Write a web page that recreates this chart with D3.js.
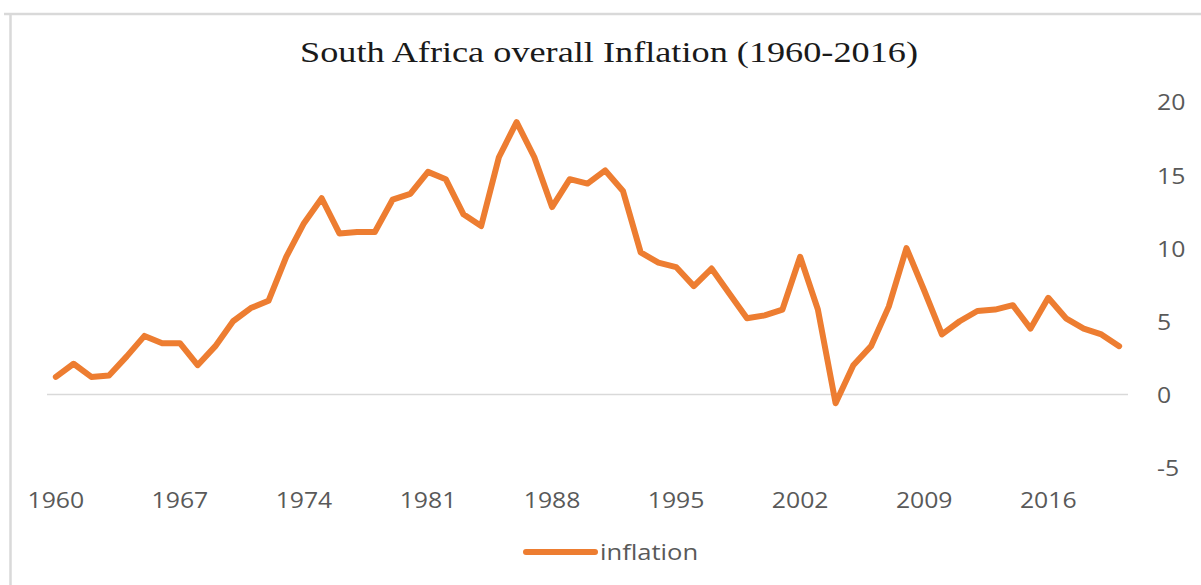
<head>
    <meta charset="utf-8">
    <style> body { margin: 0; background: #fff; } </style>
    <script src="https://cdn.jsdelivr.net/npm/d3@7"></script>
</head>
<body>
<div id="chart"></div>
<script>

    var years = d3.range(1960, 2021);

    var inflation = [
        1.2, 2.1, 1.2, 1.3, 2.6, 4.0, 3.5, 3.5, 2.0, 3.3,
        5.0, 5.9, 6.4, 9.4, 11.7, 13.4, 11.0, 11.1, 11.1, 13.3,
        13.7, 15.2, 14.7, 12.3, 11.5, 16.2, 18.6, 16.2, 12.8, 14.7,
        14.4, 15.3, 13.9, 9.7, 9.0, 8.7, 7.4, 8.6, 6.9, 5.2,
        5.4, 5.8, 9.4, 5.8, -0.6, 2.0, 3.3, 6.0, 10.0, 7.1,
        4.1, 5.0, 5.7, 5.8, 6.1, 4.5, 6.6, 5.2, 4.5, 4.1,
        3.3
    ];

    var xTickLabels = [1960, 1967, 1974, 1981, 1988, 1995, 2002, 2009, 2016];
    var yTickLabels = [-5, 0, 5, 10, 15, 20];

    var W = 1201, H = 585;
    var col = "#ED7D31",
        txt = "#595959",
        stretch = 1.18;

    var svg = d3.select("#chart").append("svg")
        .attr("width", W)
        .attr("height", H);

    // chart frame (cropped, only top and left visible)
    svg.append("line")
        .attr("x1", 4).attr("x2", W)
        .attr("y1", 14).attr("y2", 14)
        .attr("stroke", "#d9d9d9").attr("stroke-width", 2.5);
    svg.append("line")
        .attr("x1", 10.5).attr("x2", 10.5)
        .attr("y1", 13).attr("y2", H)
        .attr("stroke", "#d9d9d9").attr("stroke-width", 2.5);

    svg.append("text")
        .attr("x", 609)
        .attr("y", 62)
        .attr("text-anchor", "middle")
        .attr("font-family", "'Liberation Serif', 'Times New Roman', serif")
        .attr("font-size", 30)
        .attr("fill", "#1a1a1a")
        .attr("textLength", 618)
        .attr("lengthAdjust", "spacingAndGlyphs")
        .text("South Africa overall Inflation (1960-2016)");

    var x = d3.scaleBand()
        .domain(years)
        .range([47, 1128]);

    var xc = d => x(d) + x.bandwidth() / 2;

    var y = d3.scaleLinear()
        .domain([-5, 20])
        .range([467.7, 101.6]);

    // zero line
    svg.append("line")
        .attr("x1", 47).attr("x2", 1128)
        .attr("y1", y(0)).attr("y2", y(0))
        .attr("stroke", "#d9d9d9")
        .attr("stroke-width", 1.5);

    var xx = svg.append("g")
        .attr("transform", "translate(0,499.5)")
        .call(d3.axisBottom(x).tickValues(xTickLabels).tickSize(0).tickPadding(0));

    xx.select(".domain").remove();
    xx.selectAll("text")
        .attr("y", 0)
        .attr("dy", null)
        .attr("dominant-baseline", "central")
        .attr("transform", "scale(" + stretch + ",1)");

    var yx = svg.append("g")
        .attr("transform", "translate(1157,0)")
        .call(d3.axisRight(y).tickValues(yTickLabels).tickSize(0).tickPadding(0)
            .tickFormat(d => String(d)));

    yx.select(".domain").remove();
    yx.selectAll("text")
        .attr("x", 0)
        .attr("dy", null)
        .attr("dominant-baseline", "central")
        .attr("text-anchor", "start")
        .attr("transform", "scale(" + stretch + ",1)");

    svg.selectAll(".tick text")
        .attr("font-family", "'Open Sans', sans-serif")
        .attr("font-size", 21)
        .attr("fill", txt);

    svg.append("path")
        .datum(inflation)
        .attr("fill", "none")
        .attr("stroke", col)
        .attr("stroke-width", 6)
        .attr("stroke-linejoin", "round")
        .attr("stroke-linecap", "round")
        .attr("d", d3.line()
            .x((d, i) => xc(years[i]))
            .y(d => y(d)));

    // legend
    var leg = svg.append("g");
    leg.append("line")
        .attr("x1", 526).attr("x2", 595)
        .attr("y1", 552).attr("y2", 552)
        .attr("stroke", col)
        .attr("stroke-width", 6)
        .attr("stroke-linecap", "round");
    leg.append("g")
        .attr("transform", "translate(600,552) scale(1.22,1)")
        .append("text")
        .attr("dominant-baseline", "central")
        .attr("font-family", "'Open Sans', sans-serif")
        .attr("font-size", 21)
        .attr("fill", txt)
        .text("inflation");

</script>
</body>
